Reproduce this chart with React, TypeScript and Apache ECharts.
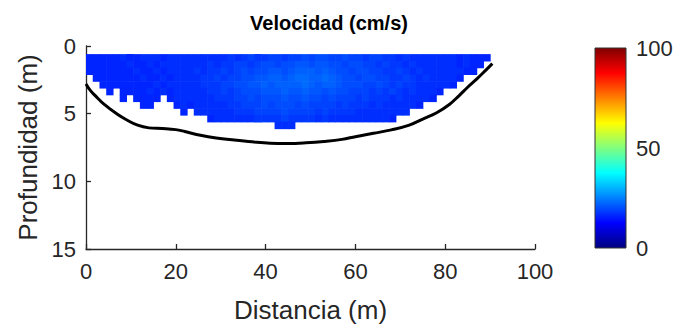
import React, { useEffect, useRef } from "react";
import * as echarts from "echarts";

// Grid of the velocity section
const DIST_STEP = 1.5; // m between profiles
const DEPTH_STEP = 0.5; // m per depth cell
const FIRST_CELL = 0.6; // m, top of the first measured cell

const _ = null;

// Velocity (cm/s), one row per depth cell, one column per profile
const velocityRows: (number | null)[][] = [
  [16,16,16,16,16,17,16,16,17,17, 17,16,17,17,17,17,17,17,17,17, 17,18,17,18,19,18,18,19,19,18, 19,19,20,19,20,20,19,19,20,19, 19,18,19,19,18,18,17,18,17,17, 17,17,17,17,17,16,17,16,16,16],
  [16,16,16,16,16,16,17,16,16,17, 16,17,17,17,17,17,17,17,18,17, 18,18,19,19,18,19,20,20,19,20, 20,21,21,20,21,21,20,20,19,20, 20,19,19,18,19,18,18,17,18,17, 17,17,17,17,17,16,17,16,16,_],
  [16,16,16,16,16,16,16,17,16,16, 17,16,17,17,17,17,18,17,18,18, 19,18,19,20,19,20,20,21,21,20, 21,22,22,22,21,22,21,20,20,19, 20,20,19,19,18,18,19,18,17,18, 17,17,17,17,17,17,16,16,_,_],
  [_,16,16,16,16,16,16,16,17,16, 16,17,16,17,17,17,17,18,18,19, 18,19,19,20,20,21,21,22,22,21, 22,23,23,22,22,23,22,21,20,20, 19,20,20,19,19,18,18,19,18,17, 18,17,17,17,17,16,_,_,_,_],
  [_,_,16,16,16,16,16,16,16,16, 17,16,17,17,17,17,17,18,18,18, 19,19,20,20,21,21,22,21,22,22, 22,22,23,22,21,22,22,21,20,20, 20,19,19,20,19,18,19,18,18,17, 17,17,17,17,16,_,_,_,_,_],
  [_,_,_,16,_,16,16,16,16,17, 16,17,16,17,17,17,17,17,18,18, 19,18,19,20,20,20,21,21,21,22, 21,21,22,21,21,20,21,20,20,19, 19,19,18,19,18,19,18,17,18,17, 17,17,16,_,_,_,_,_,_,_],
  [_,_,_,_,_,16,_,16,16,16, 16,_,16,17,17,17,17,17,17,18, 18,18,19,19,20,19,20,20,20,21, 20,20,21,20,20,19,20,19,19,19, 18,19,18,18,18,17,18,17,17,17, 17,16,_,_,_,_,_,_,_,_],
  [_,_,_,_,_,_,_,_,16,16, _,_,_,16,17,16,17,17,17,17, 17,18,18,19,19,19,20,19,20,20, 20,19,20,19,19,19,19,18,19,18, 18,18,17,18,17,17,17,17,17,16, _,_,_,_,_,_,_,_,_,_],
  [_,_,_,_,_,_,_,_,_,_, _,_,_,_,16,_,17,17,17,17, 17,17,18,18,18,19,19,19,19,20, 19,19,19,19,18,19,18,18,18,18, 17,17,17,17,17,17,17,17,_,_, _,_,_,_,_,_,_,_,_,_],
  [_,_,_,_,_,_,_,_,_,_, _,_,_,_,_,_,_,_,16,17, 17,17,17,17,17,18,18,18,18,19, 18,18,18,18,17,18,17,17,17,17, 17,17,17,17,17,16,_,_,_,_, _,_,_,_,_,_,_,_,_,_],
  [_,_,_,_,_,_,_,_,_,_, _,_,_,_,_,_,_,_,_,_, _,_,_,_,_,_,_,_,17,17, 17,_,_,_,_,_,_,_,_,_, _,_,_,_,_,_,_,_,_,_, _,_,_,_,_,_,_,_,_,_],
];

// Channel bed
const bedDistance = [0, 1, 2, 4, 7, 9, 11.5, 14, 17, 20, 22, 25.5, 29, 33, 37, 41, 45, 49, 53, 57, 60, 64, 68, 72, 75, 78, 81, 83, 85, 87, 89, 90.5];
const bedDepth = [2.8, 3.3, 3.65, 4.3, 5.05, 5.45, 5.85, 6.05, 6.1, 6.18, 6.32, 6.6, 6.8, 6.95, 7.08, 7.18, 7.2, 7.15, 7.05, 6.9, 6.7, 6.45, 6.2, 5.85, 5.4, 4.95, 4.3, 3.7, 3.05, 2.45, 1.8, 1.3];

// Axes
const distanceRange = [0, 100];
const distanceInterval = 20;
const depthRange = [0, 15];
const depthInterval = 5;
const velocityRange = [0, 100];
const velocityInterval = 50;

const JET = ["#000080", "#0000ff", "#0080ff", "#00ffff", "#80ff80", "#ffff00", "#ff8000", "#ff0000", "#800000"];

const FONT = "'Liberation Sans', Arial, Helvetica, sans-serif";
const INK = "#262626";

function buildCells() {
  const cells: number[][] = [];
  velocityRows.forEach((row, r) => {
    row.forEach((v, c) => {
      if (v !== null) cells.push([c * DIST_STEP, FIRST_CELL + r * DEPTH_STEP, v]);
    });
  });
  return cells;
}

export default function App() {
  const ref = useRef<HTMLDivElement>(null);

  useEffect(() => {
    if (!ref.current) return;
    const chart = echarts.init(ref.current, undefined, { renderer: "svg" });
    const cells = buildCells();
    const bed = bedDistance.map((d, i) => [d, bedDepth[i]]);

    const axisLine = { show: true, onZero: false, lineStyle: { color: INK, width: 1.3 } };
    const axisTick = { show: true, inside: true, length: 5, lineStyle: { color: INK, width: 1.3 } };

    chart.setOption({
      animation: false,
      backgroundColor: "#ffffff",
      textStyle: { fontFamily: FONT },
      title: {
        text: "Velocidad (cm/s)",
        left: 324,
        top: 8,
        textAlign: "center",
        textStyle: { fontSize: 20, fontWeight: "bold", color: "#000", fontFamily: FONT },
      },
      grid: [
        { left: 86, top: 46, width: 449, height: 203 },
        { left: 595, top: 48, width: 31, height: 200 },
      ],
      xAxis: [
        {
          gridIndex: 0,
          type: "value",
          min: distanceRange[0],
          max: distanceRange[1],
          interval: distanceInterval,
          name: "Distancia (m)",
          nameLocation: "middle",
          nameGap: 48,
          nameTextStyle: { fontSize: 26, color: INK, fontFamily: FONT },
          axisLine,
          axisTick,
          axisLabel: { fontSize: 22, color: INK, margin: 11, fontFamily: FONT },
          splitLine: { show: false },
        },
        { gridIndex: 1, type: "value", min: 0, max: 1, show: false },
      ],
      yAxis: [
        {
          gridIndex: 0,
          type: "value",
          min: depthRange[0],
          max: depthRange[1],
          interval: depthInterval,
          inverse: true,
          name: "Profundidad (m)",
          nameLocation: "middle",
          nameGap: 41,
          nameRotate: 90,
          nameTextStyle: { fontSize: 26, color: INK, fontFamily: FONT },
          axisLine,
          axisTick,
          axisLabel: { fontSize: 22, color: INK, margin: 10, fontFamily: FONT },
          splitLine: { show: false },
        },
        {
          gridIndex: 1,
          type: "value",
          min: velocityRange[0],
          max: velocityRange[1],
          interval: velocityInterval,
          position: "right",
          axisLine: { show: false },
          axisTick: { show: false },
          axisLabel: { fontSize: 22, color: INK, margin: 10, fontFamily: FONT },
          splitLine: { show: false },
        },
      ],
      visualMap: {
        show: false,
        type: "continuous",
        min: velocityRange[0],
        max: velocityRange[1],
        dimension: 2,
        seriesIndex: 0,
        inRange: { color: JET },
      },
      series: [
        {
          type: "custom",
          xAxisIndex: 0,
          yAxisIndex: 0,
          data: cells,
          encode: { x: 0, y: 1 },
          z: 1,
          renderItem: (params: any, api: any) => {
            const x0 = api.value(0);
            const d0 = api.value(1);
            const p1 = api.coord([x0, d0]);
            const p2 = api.coord([x0 + DIST_STEP, d0 + DEPTH_STEP]);
            return {
              type: "rect",
              shape: { x: p1[0], y: p1[1], width: p2[0] - p1[0] + 0.6, height: p2[1] - p1[1] + 0.6 },
              style: { fill: api.visual("color") },
            };
          },
        },
        {
          type: "line",
          xAxisIndex: 0,
          yAxisIndex: 0,
          data: bed,
          smooth: 0.4,
          showSymbol: false,
          symbol: "none",
          lineStyle: { color: "#000", width: 3 },
          z: 3,
        },
        {
          type: "custom",
          xAxisIndex: 1,
          yAxisIndex: 1,
          data: [[0, velocityRange[0], velocityRange[1]]],
          renderItem: (params: any, api: any) => {
            const a = api.coord([0, api.value(1)]);
            const b = api.coord([1, api.value(2)]);
            return {
              type: "rect",
              shape: { x: a[0], y: b[1], width: b[0] - a[0], height: a[1] - b[1] },
              style: {
                fill: {
                  type: "linear",
                  x: 0,
                  y: 1,
                  x2: 0,
                  y2: 0,
                  colorStops: JET.map((c, i) => ({ offset: i / (JET.length - 1), color: c })),
                },
                stroke: "#333",
                lineWidth: 1,
              },
            };
          },
        },
      ],
    });

    return () => chart.dispose();
  }, []);

  return <div ref={ref} style={{ position: "absolute", left: 0, top: 0, width: 676, height: 331 }} />;
}
